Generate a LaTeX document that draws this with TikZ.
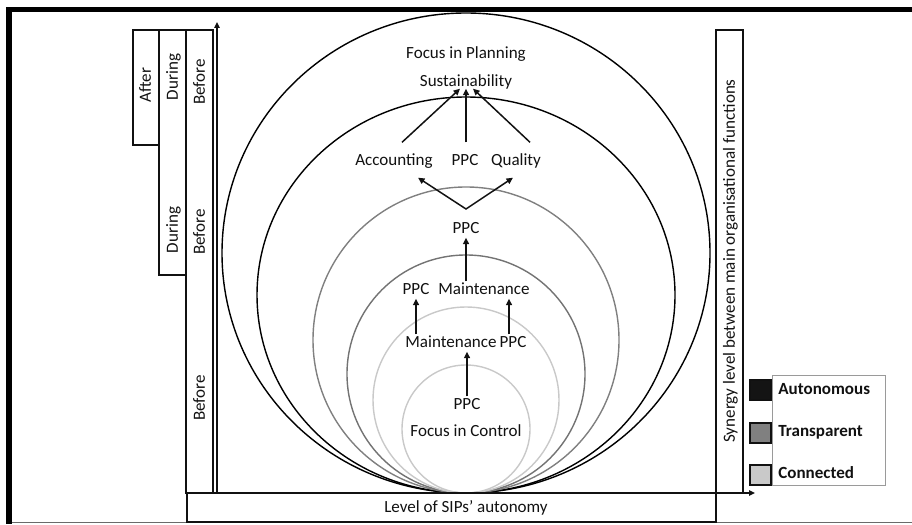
\documentclass[tikz,border=0pt]{standalone}
\usepackage{fontspec}
\setmainfont{Carlito}
\usetikzlibrary{arrows.meta,calc}
\definecolor{ink}{HTML}{111111}
\definecolor{framegray}{HTML}{6A6A6A}
\definecolor{autogray}{HTML}{141414}
\definecolor{transgray}{HTML}{808080}
\definecolor{conngray}{HTML}{C9C9C9}
\definecolor{keyedge}{HTML}{9A9A9A}
\tikzset{
  lbl/.style={inner sep=0pt,text height=0.75em,text depth=0.2em,
              font=\fontsize{9.7}{11}\selectfont,text=ink},
  vlbl/.style={lbl,rotate=90},
  keylbl/.style={lbl,anchor=west,font=\fontsize{9.7}{11}\selectfont\bfseries},
  colbox/.style={draw=ink,line width=0.85pt},
  ring/.style={line width=0.8pt},
  keysq/.style={draw=ink,line width=0.75pt},
  arr/.style={-{Triangle[length=1.3mm,width=1.2mm]},line width=0.85pt,draw=ink},
  twoarr/.style={{Triangle[length=1.3mm,width=1.2mm]}-{Triangle[length=1.3mm,width=1.2mm]},
                 line width=0.85pt,draw=ink},
  axis/.style={-{Triangle[length=1.2mm,width=1.1mm]},line width=0.85pt,draw=ink}
}
\begin{document}
\begin{tikzpicture}[x=0.02cm,y=0.02cm]
  \path[use as bounding box] (0,0) rectangle (912,524);

  % frame
  \fill[black] (6,517) rectangle (912,512);
  \fill[black] (6,0) rectangle (12,517);
  \draw[framegray,line width=0.6pt] (12,1.5) -- (912,1.5);

  % nested rings, all touching the bottom axis
  \draw[ring,draw=black] (466,271) ellipse (244 and 240);
  \draw[ring,draw=black] (466,229) ellipse (209 and 198);
  \draw[ring,draw=transgray] (466,184) circle (153);
  \draw[ring,draw=transgray!90!black] (466,150) circle (119);
  \draw[ring,draw=conngray] (466,124) circle (93);
  \draw[ring,draw=conngray] (466,95) circle (64);

  % time columns on the left
  \draw[colbox] (133,494) rectangle (159,379);
  \draw[colbox] (159,494) rectangle (186,249);
  \draw[colbox] (186,494) rectangle (213,31);
  \node[vlbl] (after) at (146,439) {After};
  \node[vlbl] (durA) at (173,447) {During};
  \node[vlbl] (durB) at (173,294) {During};
  \node[vlbl] (befA) at (200,442) {Before};
  \node[vlbl] (befB) at (200,292) {Before};
  \node[vlbl] (befC) at (200,126) {Before};

  % axes boxes
  \draw[colbox] (187,31) rectangle (716,2);
  \node[lbl] (level) at (466,16) {Level of SIPs’ autonomy};
  \draw[colbox] (716,494) rectangle (743,31);
  \node[vlbl] (syn) at (730,263) {Synergy level between main organisational functions};
  \coordinate (o) at (217,31);
  \coordinate (ytop) at (217,502);
  \coordinate (xend) at (755,31);
  \draw[axis] (o) -- (ytop);
  \draw[axis] (187,31) -- (xend);

  % labels inside the rings
  \node[lbl] (plan) at (466,470) {Focus in Planning};
  \node[lbl] (sus) at (466,442) {Sustainability};
  \node[lbl] (acc) at (394,363) {Accounting};
  \node[lbl] (ppcA) at (465,363) {PPC};
  \node[lbl] (qual) at (516,363) {Quality};
  \node[lbl] (ppcB) at (466,295) {PPC};
  \node[lbl] (ppcC) at (416,234) {PPC};
  \node[lbl] (maintA) at (484,234) {Maintenance};
  \node[lbl] (maintB) at (451,181) {Maintenance};
  \node[lbl] (ppcD) at (513,181) {PPC};
  \node[lbl] (ppcE) at (467,119) {PPC};
  \node[lbl] (ctrl) at (466,92) {Focus in Control};
  \coordinate (fork) at (466,315);

  \draw[arr] ($(acc.north)+(8,10)$) -- ($(sus.south)+(-6,2)$);
  \draw[arr] ($(ppcA.north)+(1,10)$) -- ($(sus.south)+(0,2)$);
  \draw[arr] ($(qual.north)+(14,10)$) -- ($(sus.south)+(7,2)$);
  \draw[twoarr] ($(acc.south)+(24,-8)$) -- (fork) -- ($(qual.south)+(-3,-8)$);
  \draw[arr] (maintA.north -| ppcB.south) -- (ppcB.south);
  \draw[arr] (maintB.north -| ppcC.south) -- (ppcC.south);
  \draw[arr] ($(ppcD.north)+(-4,0)$) -- ($(ppcD.north |- maintA.south)+(-4,0)$);
  \draw[arr] (ppcE.north) -- (ppcE.north |- maintB.south);

  % legend
  \draw[draw=keyedge,line width=0.5pt] (772,149) rectangle (885,39);
  \draw[keysq,fill=autogray] (750,144) rectangle (771,124);
  \draw[keysq,fill=transgray] (750,101) rectangle (771,81);
  \draw[keysq,fill=conngray] (750,59) rectangle (771,39);
  \node[keylbl] (auto) at (778,134) {Autonomous};
  \node[keylbl] (trans) at (778,92) {Transparent};
  \node[keylbl] (conn) at (778,50) {Connected};
\end{tikzpicture}
\end{document}
